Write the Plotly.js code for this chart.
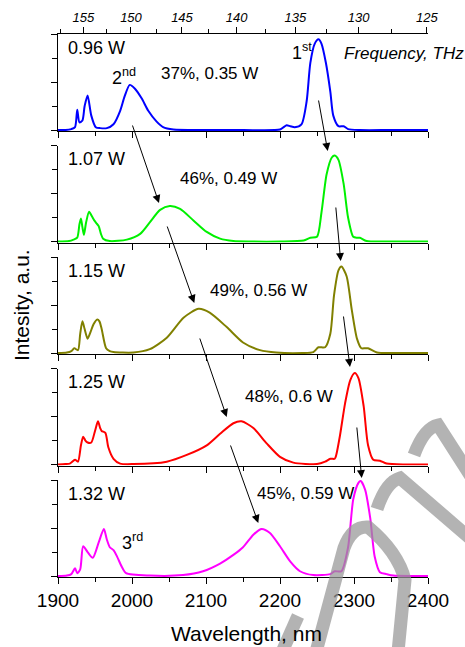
<!DOCTYPE html>
<html>
<head>
<meta charset="utf-8">
<script src="https://cdn.plot.ly/plotly-3.0.1.min.js"></script>
<style>html,body{margin:0;padding:0;background:#fff;}#chart{width:465px;height:647px;}</style>
</head>
<body>
<div id="chart"></div>
<script>
// ---- data ----
const wl1 = [1900,1910,1918,1923,1926,1929,1933,1936,1940,1945,1951,1957,1966,1975,1984,1990,1997,2004,2013,2022,2033,2042,2056,2100,2150,2200,2205,2209,2214,2220,2229,2236,2241,2247,2252,2256,2262,2268,2272,2279,2286,2292,2308,2350,2400];
const in1 = [0,0,0.01,0.03,0.21,0.08,0.1,0.25,0.36,0.15,0.03,0.02,0.02,0.06,0.2,0.35,0.47,0.43,0.33,0.2,0.09,0.03,0.005,0,0,0.005,0.03,0.05,0.04,0.03,0.06,0.3,0.7,0.9,0.945,0.9,0.7,0.4,0.15,0.04,0.04,0.01,0,0,0];

const wl2 = [1900,1915,1921,1926,1929,1931,1933,1935,1938,1942,1946,1949,1952,1955,1958,1961,1970,1993,2011,2024,2038,2051,2065,2083,2101,2119,2137,2160,2200,2232,2241,2250,2256,2263,2270,2274,2279,2286,2292,2299,2304,2308,2317,2350,2400];
const in2 = [0,0.005,0.02,0.04,0.18,0.24,0.15,0.07,0.2,0.31,0.26,0.22,0.19,0.16,0.08,0.03,0.005,0.02,0.08,0.2,0.33,0.37,0.34,0.22,0.1,0.03,0.005,0,0,0.01,0.04,0.05,0.3,0.7,0.875,0.895,0.85,0.6,0.25,0.05,0.04,0.04,0.005,0,0];

const wl3 = [1900,1912,1918,1922,1927,1930,1933,1936,1940,1944,1948,1953,1956,1959,1965,1970,1975,2002,2024,2047,2070,2090,2105,2128,2150,2173,2195,2230,2245,2252,2261,2268,2273,2279,2283,2290,2297,2304,2310,2315,2319,2331,2360,2400];
const in3 = [0,0.005,0.02,0.05,0.03,0.2,0.33,0.25,0.15,0.22,0.3,0.35,0.33,0.25,0.05,0.02,0.01,0.005,0.04,0.16,0.37,0.46,0.42,0.27,0.11,0.03,0.005,0,0.01,0.06,0.06,0.2,0.6,0.86,0.9,0.8,0.45,0.15,0.05,0.05,0.05,0.005,0,0];

const wl4 = [1900,1910,1916,1923,1927,1931,1934,1937,1940,1945,1950,1954,1957,1959,1964,1968,1975,1984,2002,2047,2074,2101,2119,2137,2148,2164,2182,2200,2218,2250,2261,2268,2274,2276,2281,2288,2295,2301,2306,2313,2319,2326,2335,2344,2370,2400];
const in4 = [0,0.005,0.01,0.05,0.03,0.2,0.29,0.25,0.23,0.23,0.35,0.45,0.38,0.35,0.33,0.18,0.06,0.01,0.005,0.03,0.1,0.2,0.32,0.43,0.45,0.38,0.22,0.08,0.02,0.005,0.03,0.06,0.06,0.1,0.3,0.64,0.88,0.953,0.9,0.61,0.2,0.05,0.04,0.01,0,0];

const wl5 = [1900,1912,1918,1923,1926,1930,1934,1940,1947,1955,1962,1966,1970,1975,1980,1986,1992,2024,2069,2096,2119,2137,2150,2164,2175,2186,2200,2214,2227,2245,2268,2274,2283,2292,2299,2306,2309,2315,2322,2328,2335,2344,2353,2380,2400];
const in5 = [0,0.005,0.02,0.08,0.03,0.07,0.31,0.25,0.19,0.35,0.49,0.38,0.3,0.27,0.2,0.1,0.03,0.005,0.01,0.05,0.13,0.22,0.3,0.43,0.49,0.45,0.31,0.15,0.05,0.01,0.02,0.05,0.05,0.3,0.8,0.97,0.99,0.9,0.6,0.2,0.04,0.02,0.005,0,0];

const colors = ['#0000ff','#00f000','#808000','#ff0000','#ff00ff'];
const powerLabels = ['0.96 W','1.07 W','1.15 W','1.25 W','1.32 W'];
const effLabels = ['37%, 0.35 W','46%, 0.49 W','49%, 0.56 W','48%, 0.6 W','45%, 0.59 W'];
const wlTicks = [1900,2000,2100,2200,2300,2400];
const freqTicks = [155,150,145,140,135,130,125];
const freqMinor = [157.5,152.5,147.5,142.5,137.5,132.5,127.5];

// ---- geometry helpers (pixel -> paper) ----
const L=58, R=428, T=34, B=577;
const W=R-L, H=B-T;
const px = x => (x-L)/W;
const py = y => (B-y)/H;
const C_LIGHT = 299792.458; // nm*THz

const font = "Arial, 'Liberation Sans', sans-serif";
const wls=[wl1,wl2,wl3,wl4,wl5], ins=[in1,in2,in3,in4,in5];

const traces = wls.map((w,i)=>({
  x:w, y:ins[i], type:'scatter', mode:'lines',
  xaxis:'x'+(i+1), yaxis:'y'+(i+1),
  line:{color:colors[i], width:2, shape:'spline', smoothing:0.7},
  hoverinfo:'skip'
}));
traces.push({x:[], y:[], type:'scatter', mode:'lines', xaxis:'x6', yaxis:'y1'});

const panelH = 97, gap = 14.5;
const layout = {
  width:465, height:647,
  margin:{l:L, r:465-R, t:T, b:647-B},
  paper_bgcolor:'#fff', plot_bgcolor:'rgba(0,0,0,0)',
  showlegend:false,
  font:{family:font, color:'#000'},
  annotations:[], shapes:[]
};
for(let i=0;i<5;i++){
  const top = T + i*(panelH+gap), bot = top+panelH;
  const k = i+1;
  layout['yaxis'+k] = {
    domain:[py(bot), py(top)], anchor:'x'+k, range:[-0.01,1],
    showline:true, linecolor:'#000', linewidth:1, mirror:false,
    ticks:'outside', ticklen:6, tickwidth:1, tickcolor:'#000',
    tickmode:'linear', tick0:0, dtick:0.5, showticklabels:false,
    minor:{dtick:0.25, ticks:'outside', ticklen:5, tickcolor:'#000'},
    showgrid:false, zeroline:false, fixedrange:true
  };
  layout['xaxis'+k] = {
    domain:[0,1], anchor:'y'+k, range:[1900,2400],
    showline:true, linecolor:'#000', linewidth:1,
    ticks:'outside', ticklen:6, tickwidth:1, tickcolor:'#000',
    tickmode:'array', tickvals:wlTicks, ticktext:wlTicks.map(String),
    minor:{dtick:50, tick0:1900, ticks:'outside', ticklen:4, tickcolor:'#000'},
    showticklabels:(k===5), tickfont:{size:19, family:font},
    showgrid:false, zeroline:false, fixedrange:true
  };
  layout.annotations.push({xref:'paper', yref:'paper', x:px(66), y:py(top+13.5),
    text:powerLabels[i], showarrow:false, xanchor:'left', yanchor:'middle',
    font:{size:18, family:font}});
}
// top frequency axis
layout.xaxis6 = {
  overlaying:'x1', anchor:'y1', side:'top', range:[1900,2400],
  showline:true, linecolor:'#000', linewidth:1,
  tickmode:'array', tickvals:freqTicks.map(f=>C_LIGHT/f), ticktext:freqTicks.map(String),
  ticks:'outside', ticklen:6, tickcolor:'#000',
  minor:{tickmode:'array', tickvals:freqMinor.map(f=>C_LIGHT/f), ticks:'outside', ticklen:4, tickcolor:'#000'},
  tickfont:{size:13, family:font, style:'italic'},
  showgrid:false, zeroline:false, fixedrange:true
};

// efficiency labels
const effPos = [[159,73],[178,178],[208,290],[243,396],[255,493]];
effLabels.forEach((t,i)=>layout.annotations.push({xref:'paper', yref:'paper',
  x:px(effPos[i][0]), y:py(effPos[i][1]), text:t, showarrow:false,
  xanchor:'left', yanchor:'middle', font:{size:17, family:font}}));

// order labels
const ordLabels = [['2<sup>nd</sup>',110,76],['1<sup>st</sup>',290,51],['3<sup>rd</sup>',120,541]];
ordLabels.forEach(o=>layout.annotations.push({xref:'paper', yref:'paper',
  x:px(o[1]), y:py(o[2]), text:o[0], showarrow:false, xanchor:'left', yanchor:'middle',
  font:{size:18, family:font}}));

layout.annotations.push({xref:'paper', yref:'paper', x:px(342), y:py(53),
  text:'Frequency, THz', showarrow:false, xanchor:'left', yanchor:'middle',
  font:{size:17, family:font, style:'italic'}});
layout.annotations.push({xref:'paper', yref:'paper', x:px(246), y:py(633),
  text:'Wavelength, nm', showarrow:false, xanchor:'center', yanchor:'middle',
  font:{size:21, family:font}});
layout.annotations.push({xref:'paper', yref:'paper', x:px(22), y:py(305),
  text:'Intesity, a.u.', showarrow:false, xanchor:'center', yanchor:'middle', textangle:-90,
  font:{size:21, family:font}});

// arrows: [tailX, tailY, headX, headY] in pixels
const arrows = [[132,124,159,203],[166.7,225,194.3,303],[199.3,337,226.7,417],[230,444,258.3,523],
                [318.3,99,327.7,151],[335.7,206,340.7,261],[343.3,315,350,367],[356.7,426,361.7,478]];
arrows.forEach(a=>layout.annotations.push({xref:'paper', yref:'paper',
  x:px(a[2]), y:py(a[3]), ax:a[0]-a[2], ay:a[1]-a[3], axref:'pixel', ayref:'pixel',
  text:'', showarrow:true, arrowhead:2, arrowsize:1.6, arrowwidth:1, arrowcolor:'#000', standoff:0, startstandoff:0}));

// watermark (grey strokes)
const P = (x,y)=>px(x)+','+py(y);
const wm = [
  'M '+P(414,455)+' Q '+P(424,428)+' '+P(438,425)+' L '+P(472,478),
  'M '+P(377,509)+' Q '+P(386,482)+' '+P(400,478)+' L '+P(472,540),
  'M '+P(316,652)+' L '+P(344,548)+' Q '+P(352,526)+' '+P(368,527)+' Q '+P(398,552)+' '+P(405,580)+' L '+P(398,652),
  'M '+P(282,652)+' L '+P(298,616)
];
wm.forEach(p=>layout.shapes.push({type:'path', xref:'paper', yref:'paper', path:p,
  line:{color:'rgba(150,150,150,0.72)', width:13}, layer:'above'}));

Plotly.newPlot('chart', traces, layout, {staticPlot:true, displayModeBar:false});
</script>
</body>
</html>
